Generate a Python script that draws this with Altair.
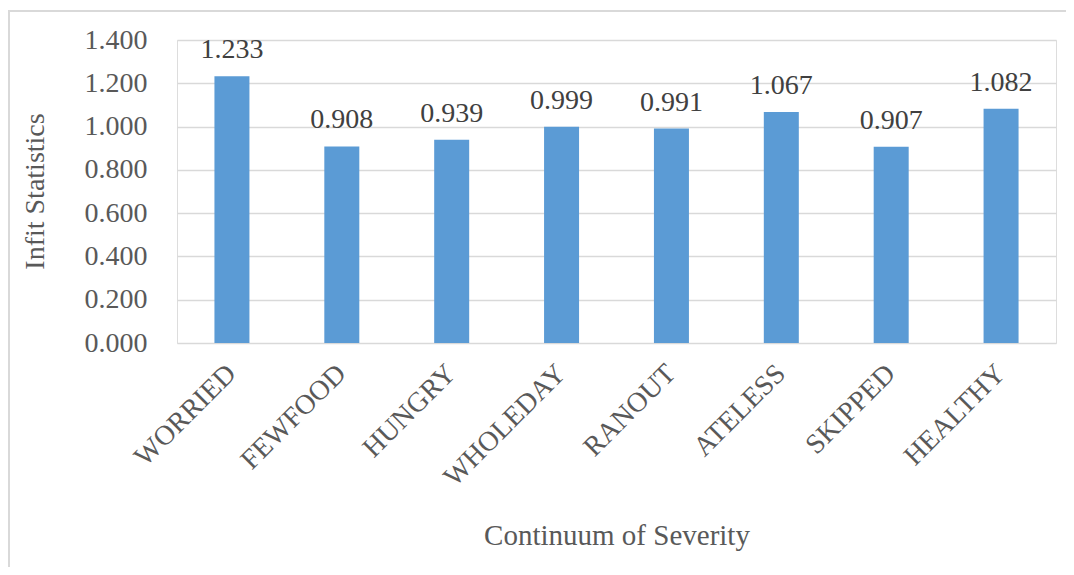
import altair as alt
import pandas as pd

categories = ["WORRIED", "FEWFOOD", "HUNGRY", "WHOLEDAY", "RANOUT", "ATELESS", "SKIPPED", "HEALTHY"]
values = [1.233, 0.908, 0.939, 0.999, 0.991, 1.067, 0.907, 1.082]
y_ticks = [0.0, 0.2, 0.4, 0.6, 0.8, 1.0, 1.2, 1.4]

df = pd.DataFrame({"item": categories, "infit": values})
df["label"] = [f"{v:.3f}" for v in values]

FONT = "'Times New Roman', 'Liberation Serif', 'DejaVu Serif', serif"
TXT = "#595959"

x_enc = alt.X("item:N", sort=categories, title="Continuum of Severity",
              scale=alt.Scale(paddingInner=0.0, paddingOuter=0.0),
              axis=alt.Axis(labelAngle=-45, labelAlign="right", labelBaseline="middle",
                            labelPadding=26, labelFontSize=28, labelFont=FONT, labelColor=TXT,
                            labelLimit=400,
                            titleFont=FONT, titleFontSize=29, titleColor=TXT, titleFontWeight="normal",
                            titleY=192, titleBaseline="middle",
                            domain=False, ticks=False, grid=False))
y_enc = alt.Y("infit:Q", title="Infit Statistics",
              scale=alt.Scale(domain=[0, 1.4], nice=False),
              axis=alt.Axis(values=y_ticks, format=".3f", labelFontSize=28, labelFont=FONT,
                            labelColor=TXT, labelPadding=30,
                            titleFont=FONT, titleFontSize=28, titleColor=TXT, titleFontWeight="normal",
                            titleX=-142, titleY=151, titleBaseline="middle", titleAngle=-90,
                            domain=False, ticks=False, grid=True, gridColor="#d9d9d9", gridWidth=1.3))

bars = alt.Chart(df).mark_bar(color="#5b9bd5", size=35).encode(x=x_enc, y=y_enc)
labels = alt.Chart(df).mark_text(font=FONT, fontSize=28, color="#404040", baseline="alphabetic", dy=-18).encode(
    x=alt.X("item:N", sort=categories), y="infit:Q", text="label:N")
frame = alt.Chart(df).mark_rect(fill=None, stroke="#d9d9d9", strokeWidth=1.5).encode(
    x=alt.value(-168), x2=alt.value(930), y=alt.value(-29), y2=alt.value(600))

chart = alt.layer(frame, bars, labels).properties(
    width=879, height=303,
    autosize=alt.AutoSizeParams(type="none"),
    padding={"left": 169, "top": 32, "right": 10, "bottom": 224},
).configure_view(stroke=None).configure(background="white", font=FONT)

chart.save("out.html", embed_options={"renderer": "svg", "actions": False})
